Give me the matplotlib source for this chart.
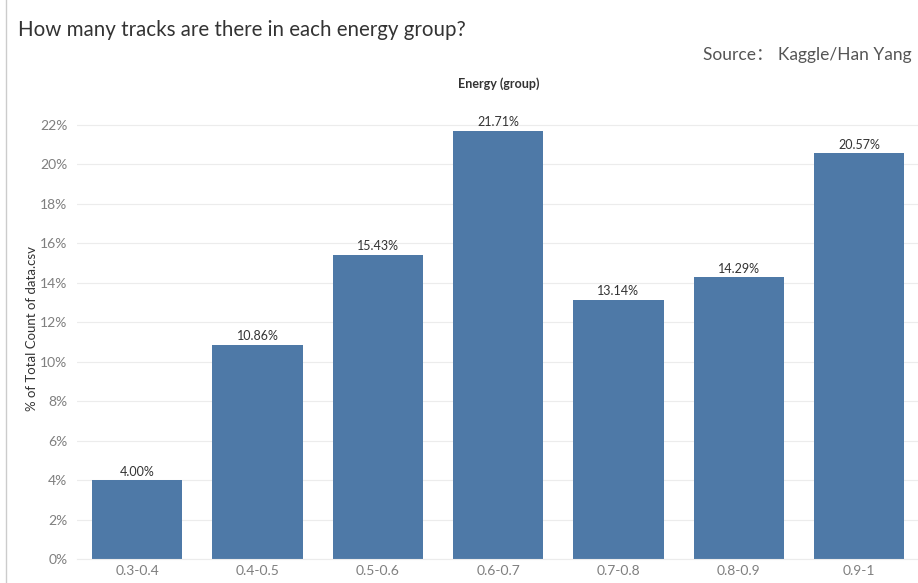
import matplotlib.pyplot as plt
from matplotlib.ticker import FuncFormatter

plt.rcParams['font.family'] = ['Lato', 'Noto Sans CJK SC', 'DejaVu Sans']

groups = ['0.3-0.4', '0.4-0.5', '0.5-0.6', '0.6-0.7', '0.7-0.8', '0.8-0.9', '0.9-1']
share = [4.00, 10.86, 15.43, 21.71, 13.14, 14.29, 20.57]
yticks = list(range(0, 23, 2))

bar_color = '#4e79a7'
grey_txt = '#7f7f7f'

fig = plt.figure(figsize=(9.18, 5.83), dpi=100)
ax = fig.add_axes([77 / 918, 1 - 559 / 583, (918 - 77) / 918, (559 - 98) / 583])

x = range(len(groups))
bars = ax.bar(x, share, width=0.75, color=bar_color, zorder=2)
for xi, v in zip(x, share):
    ax.text(xi, v + 0.12, f'{v:.2f}%', ha='center', va='bottom',
            fontsize=9, color='#333333')

ax.set_xlim(-0.5, 6.49)
ax.set_ylim(0, 23.37)
ax.set_yticks(yticks)
ax.yaxis.set_major_formatter(FuncFormatter(lambda v, _: f'{v:.0f}%'))
ax.set_xticks(list(x))
ax.set_xticklabels(groups)
ax.tick_params(axis='both', length=0, labelsize=10, colors=grey_txt)
ax.tick_params(axis='y', pad=7)
ax.tick_params(axis='x', pad=4)
ax.grid(axis='y', color='#ececec', linewidth=0.8, zorder=0)
for s in ['top', 'right', 'left']:
    ax.spines[s].set_visible(False)
ax.spines['bottom'].set_color('#ececec')

ax.set_ylabel('% of Total Count of data.csv', fontsize=9.5, color='#333333')
ax.yaxis.set_label_coords(-39 / 841, 0.5)

fig.text(18 / 918, 1 - 30 / 583, 'How many tracks are there in each energy group?',
         fontsize=14.8, color='#333333', va='center', ha='left')
fig.text(703 / 918, 1 - 55 / 583, 'Source\uff1a Kaggle/Han Yang',
         fontsize=12.5, color='#555555', va='center', ha='left')
fig.text(499 / 918, 1 - 84 / 583, 'Energy (group)',
         fontsize=9, color='#333333', va='center', ha='center', fontweight='bold')

# thin frame line on the left edge
fig.add_artist(plt.Line2D([6 / 918, 6 / 918], [0, 1], color='#cccccc', linewidth=1))

fig.savefig('out.png', dpi=100)
